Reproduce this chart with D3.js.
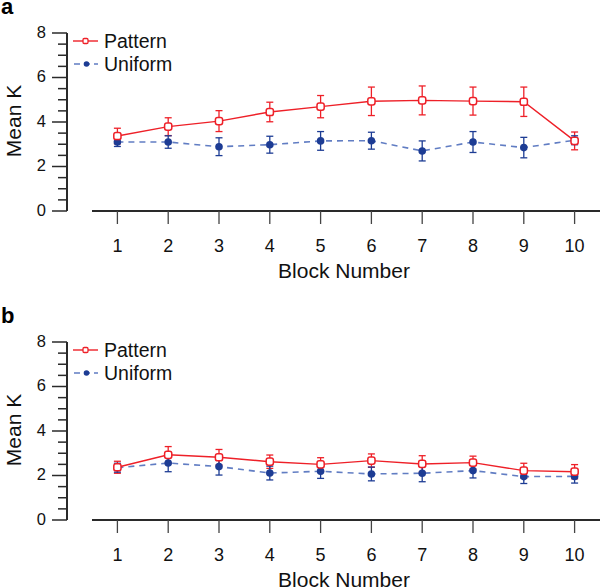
<!DOCTYPE html>
<html>
<head>
<meta charset="utf-8">
<script src="https://cdn.jsdelivr.net/npm/d3@7"></script>
<style>
  html, body { margin: 0; padding: 0; background: #fff; }
  svg { display: block; font-family: "Liberation Sans", Arial, Helvetica, sans-serif; }
</style>
</head>
<body>
<svg id="chart" width="600" height="588"></svg>
<script>
// ---- data ----
const blocks = [1, 2, 3, 4, 5, 6, 7, 8, 9, 10];
const yTicks = [0, 2, 4, 6, 8];
const seriesNames = ["Pattern", "Uniform"];
const panelLabels = ["a", "b"];

const patternA    = [3.37, 3.79, 4.04, 4.45, 4.69, 4.93, 4.97, 4.94, 4.91, 3.15];
const patternAErr = [0.35, 0.40, 0.47, 0.44, 0.50, 0.64, 0.65, 0.63, 0.66, 0.40];
const uniformA    = [3.10, 3.10, 2.89, 2.98, 3.15, 3.16, 2.70, 3.10, 2.85, 3.18];
const uniformAErr = [0.20, 0.28, 0.40, 0.38, 0.42, 0.38, 0.45, 0.47, 0.46, 0.20];

const patternB    = [2.37, 2.93, 2.82, 2.62, 2.50, 2.67, 2.52, 2.58, 2.22, 2.17];
const patternBErr = [0.27, 0.37, 0.35, 0.30, 0.30, 0.30, 0.37, 0.29, 0.33, 0.32];
const uniformB    = [2.35, 2.56, 2.40, 2.11, 2.19, 2.07, 2.10, 2.22, 1.95, 1.96];
const uniformBErr = [0.20, 0.39, 0.38, 0.31, 0.32, 0.31, 0.38, 0.33, 0.31, 0.30];

const panels = [
  { label: panelLabels[0], top: 0,   pattern: patternA, patternErr: patternAErr, uniform: uniformA, uniformErr: uniformAErr },
  { label: panelLabels[1], top: 309, pattern: patternB, patternErr: patternBErr, uniform: uniformB, uniformErr: uniformBErr }
];

const RED = "#ee2028";
const BLUE = "#1d3c94";
const BLUE_LINE = "#4566b8";
const AXIS = "#2a2a2a";

const svg = d3.select("#chart");

const x = d3.scaleLinear().domain([0.5, 10.5]).range([92, 600]);

panels.forEach(p => {
  const g = svg.append("g").attr("transform", `translate(0,${p.top})`);
  const y = d3.scaleLinear().domain([0, 8]).range([211, 33]);

  // panel label
  g.append("text").attr("x", 1).attr("y", 14)
    .attr("font-size", 22).attr("font-weight", "bold").attr("fill", "#000")
    .text(p.label);

  // y axis
  const yAxisG = g.append("g").attr("transform", "translate(67,0)");
  yAxisG.append("line").attr("x1", 0).attr("x2", 0)
    .attr("y1", y(8)).attr("y2", y(0)).attr("stroke", AXIS).attr("stroke-width", 2);
  const minor = d3.range(0, 8.01, 0.5).filter(v => v % 2 !== 0);
  yAxisG.selectAll("line.minor").data(minor).join("line").attr("class", "minor")
    .attr("x1", -9).attr("x2", 0).attr("y1", d => y(d)).attr("y2", d => y(d))
    .attr("stroke", AXIS).attr("stroke-width", 1.5);
  yAxisG.selectAll("line.major").data(yTicks).join("line").attr("class", "major")
    .attr("x1", -15).attr("x2", 0).attr("y1", d => y(d)).attr("y2", d => y(d))
    .attr("stroke", AXIS).attr("stroke-width", 1.5);
  yAxisG.selectAll("text").data(yTicks).join("text")
    .attr("x", -21).attr("y", d => y(d)).attr("dy", "0.3em")
    .attr("text-anchor", "end").attr("font-size", 16.5).attr("fill", "#111")
    .text(d => d);

  g.append("text")
    .attr("transform", `translate(21,${y(4) - 1}) rotate(-90)`)
    .attr("text-anchor", "middle").attr("font-size", 21).attr("fill", "#111")
    .text("Mean K");

  // x axis
  const xAxisG = g.append("g").attr("transform", `translate(0,${y(0)})`);
  xAxisG.append("line").attr("x1", x(0.5)).attr("x2", x(10.5))
    .attr("y1", 0).attr("y2", 0).attr("stroke", AXIS).attr("stroke-width", 2);
  xAxisG.selectAll("line.tick").data(blocks).join("line").attr("class", "tick")
    .attr("x1", d => x(d)).attr("x2", d => x(d)).attr("y1", 0).attr("y2", 13)
    .attr("stroke", "#444").attr("stroke-width", 1.3);
  xAxisG.selectAll("text").data(blocks).join("text")
    .attr("x", d => x(d)).attr("y", 40.5)
    .attr("text-anchor", "middle").attr("font-size", 18).attr("fill", "#111")
    .text(d => d);
  g.append("text").attr("x", 344).attr("y", 278)
    .attr("text-anchor", "middle").attr("font-size", 21).attr("fill", "#111")
    .text("Block Number");

  const pat = blocks.map((b, i) => ({ b, v: p.pattern[i], e: p.patternErr[i] }));
  const uni = blocks.map((b, i) => ({ b, v: p.uniform[i], e: p.uniformErr[i] }));

  const errBars = (data, color, cls) => {
    const eg = g.append("g").attr("class", cls).attr("stroke", color).attr("stroke-width", 1.3);
    eg.selectAll("line.v").data(data).join("line").attr("class", "v")
      .attr("x1", d => x(d.b)).attr("x2", d => x(d.b))
      .attr("y1", d => y(d.v + d.e)).attr("y2", d => y(d.v - d.e));
    eg.selectAll("line.t").data(data).join("line").attr("class", "t")
      .attr("x1", d => x(d.b) - 3.5).attr("x2", d => x(d.b) + 3.5)
      .attr("y1", d => y(d.v + d.e)).attr("y2", d => y(d.v + d.e));
    eg.selectAll("line.bt").data(data).join("line").attr("class", "bt")
      .attr("x1", d => x(d.b) - 3.5).attr("x2", d => x(d.b) + 3.5)
      .attr("y1", d => y(d.v - d.e)).attr("y2", d => y(d.v - d.e));
  };

  const line = d3.line().x(d => x(d.b)).y(d => y(d.v));

  errBars(pat, RED, "perr");
  errBars(uni, BLUE, "uerr");

  g.append("path").datum(uni).attr("d", line)
    .attr("fill", "none").attr("stroke", BLUE_LINE).attr("stroke-width", 1.6)
    .attr("stroke-dasharray", "6,5").attr("opacity", 0.85);
  g.selectAll("circle.u").data(uni).join("circle").attr("class", "u")
    .attr("cx", d => x(d.b)).attr("cy", d => y(d.v)).attr("r", 3.8)
    .attr("fill", BLUE);

  g.append("path").datum(pat).attr("d", line)
    .attr("fill", "none").attr("stroke", RED).attr("stroke-width", 1.4);
  g.selectAll("rect.p").data(pat).join("rect").attr("class", "p")
    .attr("x", d => x(d.b) - 3.6).attr("y", d => y(d.v) - 3.6)
    .attr("width", 7.2).attr("height", 7.2).attr("rx", 2.2)
    .attr("fill", "#fff").attr("stroke", RED).attr("stroke-width", 1.5);

  // legend
  const lg = g.append("g");
  lg.append("line").attr("x1", 73).attr("x2", 98).attr("y1", 41).attr("y2", 41)
    .attr("stroke", RED).attr("stroke-width", 1.4);
  lg.append("rect").attr("x", 83).attr("y", 38.5).attr("width", 5).attr("height", 5).attr("rx", 1.2)
    .attr("fill", "#fff").attr("stroke", RED).attr("stroke-width", 1.3);
  lg.append("text").attr("x", 104).attr("y", 47.5).attr("font-size", 19.5).attr("fill", "#111")
    .text(seriesNames[0]);
  lg.append("line").attr("x1", 74).attr("x2", 98).attr("y1", 64).attr("y2", 64)
    .attr("stroke", BLUE_LINE).attr("stroke-width", 1.5).attr("stroke-dasharray", "6,4").attr("opacity", 0.85);
  lg.append("circle").attr("cx", 86.5).attr("cy", 64).attr("r", 2.8).attr("fill", BLUE);
  lg.append("text").attr("x", 104).attr("y", 70.5).attr("font-size", 19.5).attr("fill", "#111")
    .text(seriesNames[1]);
});
</script>
</body>
</html>
